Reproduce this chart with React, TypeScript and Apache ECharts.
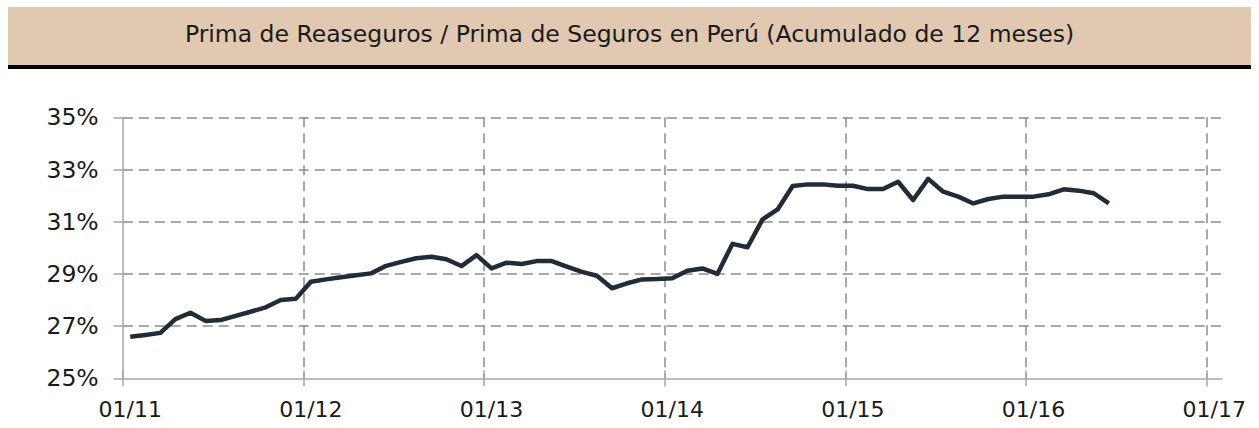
import React, { useEffect, useRef } from "react";
import * as echarts from "echarts";

// Prima de Reaseguros / Prima de Seguros (12-month accumulated), monthly Jan 2011 – Jun 2016
const ratio: number[] = [
  26.59, 26.66, 26.74, 27.27, 27.51, 27.2, 27.23, 27.39, 27.55, 27.72, 28.0, 28.05,
  28.7, 28.79, 28.87, 28.95, 29.02, 29.31, 29.46, 29.6, 29.66, 29.56, 29.3, 29.72,
  29.21, 29.43, 29.38, 29.49, 29.49, 29.28, 29.08, 28.93, 28.45, 28.64, 28.79, 28.8,
  28.83, 29.12, 29.21, 29.0, 30.15, 30.02, 31.09, 31.47, 32.37, 32.43, 32.43, 32.38,
  32.38, 32.25, 32.25, 32.53, 31.83, 32.64, 32.15, 31.96, 31.7, 31.87, 31.96, 31.96,
  31.96, 32.05, 32.24, 32.19, 32.09, 31.7,
];
const yearLabels: string[] = ["01/11", "01/12", "01/13", "01/14", "01/15", "01/16", "01/17"];
const title = "Prima de Reaseguros / Prima de Seguros en Perú (Acumulado de 12 meses)";

const FONT = "DejaVu Sans";
const AXIS = "#a6a6a6";
const GRID = "#8c8c8c";

export default function App() {
  const ref = useRef<HTMLDivElement>(null);
  useEffect(() => {
    document.body.style.margin = "0";
    const chart = echarts.init(ref.current!, undefined, { renderer: "svg" });
    // month index (mid-month position)
    const data = ratio.map((v, i) => [i + 0.5, v]);
    const grids = { top: 117.3, bottom: 49.7, left: 122.7 };
    chart.setOption({
      animation: false,
      grid: [
        { ...grids, right: 37 },
        { ...grids, right: 52.3 },
      ],
      graphic: [
        { type: "rect", shape: { x: 8, y: 7, width: 1243, height: 58 }, style: { fill: "#e1c8b0" } },
        { type: "rect", shape: { x: 8, y: 65, width: 1243, height: 4 }, style: { fill: "#000" } },
        {
          type: "text",
          x: 629.5,
          y: 34,
          style: {
            text: title,
            fontFamily: FONT,
            fontSize: 23.5,
            fill: "#1a1a1a",
            textAlign: "center",
            textVerticalAlign: "middle",
          },
        },
      ],
      xAxis: [
        {
          gridIndex: 0,
          type: "value",
          min: 0,
          max: 73,
          axisLine: { show: true, lineStyle: { color: AXIS, width: 1.5 } },
          axisTick: { show: false },
          axisLabel: { show: false },
          splitLine: { show: false },
        },
        {
          gridIndex: 1,
          type: "value",
          position: "bottom",
          min: 0,
          max: 72,
          interval: 12,
          axisLine: { show: false },
          axisTick: { show: true, length: 8, lineStyle: { color: AXIS, width: 1.5 } },
          axisLabel: {
            show: true,
            margin: 20,
            padding: [0, 0, 0, 15],
            fontFamily: FONT,
            fontSize: 22,
            color: "#1a1a1a",
            formatter: (v: number) => yearLabels[Math.round(v / 12)] ?? "",
          },
          splitLine: { show: true, showMinLine: false, lineStyle: { color: GRID, width: 1.5, type: [10, 6] } },
        },
        {
          gridIndex: 1,
          type: "value",
          position: "bottom",
          min: 0,
          max: 72,
          interval: 12,
          axisLine: { show: false },
          axisTick: { show: true, inside: true, length: 8, lineStyle: { color: AXIS, width: 1.5 } },
          axisLabel: { show: false },
          splitLine: { show: false },
        },
      ],
      yAxis: [
        {
          gridIndex: 0,
          type: "value",
          min: 25,
          max: 35,
          interval: 2,
          axisLine: { show: true, lineStyle: { color: AXIS, width: 1.5 } },
          axisTick: { show: true, length: 9, lineStyle: { color: AXIS, width: 1.5 } },
          axisLabel: {
            show: true,
            margin: 24,
            fontFamily: FONT,
            fontSize: 23.5,
            color: "#1a1a1a",
            formatter: "{value}%",
          },
          splitLine: { show: true, showMinLine: false, lineStyle: { color: GRID, width: 1.5, type: [10, 6] } },
        },
        { gridIndex: 1, type: "value", min: 25, max: 35, show: false },
      ],
      series: [
        {
          type: "line",
          xAxisIndex: 1,
          yAxisIndex: 1,
          data,
          symbol: "none",
          lineStyle: { color: "#222b36", width: 4.5, join: "round" },
          z: 5,
        },
      ],
    });
    return () => chart.dispose();
  }, []);
  return <div ref={ref} style={{ width: 1259, height: 428 }} />;
}
